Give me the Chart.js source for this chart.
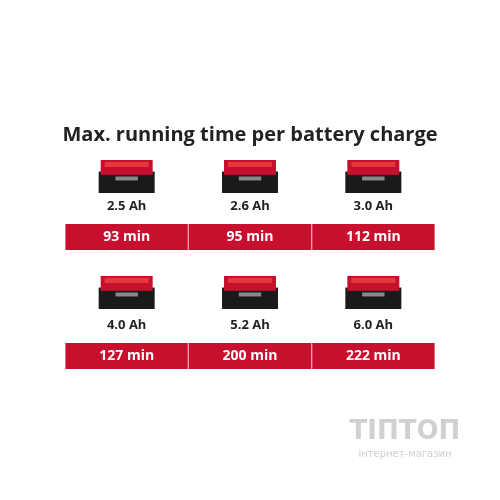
<!DOCTYPE html>
<html><head><meta charset="utf-8">
<script src="https://cdn.jsdelivr.net/npm/chart.js@4/dist/chart.umd.min.js"></script>
<style>html,body{margin:0;padding:0;background:#fff}#w{width:500px;height:500px}</style>
</head><body><div id="w"><canvas id="c"></canvas></div>
<script>
const titleText = "Max. running time per battery charge";
const columns = ["col1", "col2", "col3"];
const row1Capacity = ["2.5 Ah", "2.6 Ah", "3.0 Ah"];
const row1Minutes = [93, 95, 112];
const row2Capacity = ["4.0 Ah", "5.2 Ah", "6.0 Ah"];
const row2Minutes = [127, 200, 222];
const row1Band = [224, 250];
const row2Band = [343, 369];
const red = "#c8102e";

function drawBattery(ctx, cx, top, w, h) {
  ctx.save();
  ctx.fillStyle = "#1a1a1a";
  ctx.fillRect(cx - w/2, top + h*0.35, w, h*0.65);
  ctx.fillStyle = red;
  ctx.fillRect(cx - w/2 + 2, top, w - 4, h*0.45);
  ctx.fillStyle = "#e23a3a";
  ctx.fillRect(cx - w/2 + 6, top + 2, w - 12, h*0.15);
  ctx.fillStyle = "#888";
  ctx.fillRect(cx - w*0.2, top + h*0.5, w*0.4, h*0.12);
  ctx.restore();
}

const overlay = {
  id: "overlay",
  afterDatasetsDraw(chart) {
    const ctx = chart.ctx, x = chart.scales.x, y = chart.scales.y;
    ctx.save();
    ctx.textAlign = "center"; ctx.textBaseline = "middle";
    ctx.fillStyle = "#222";
    ctx.font = "bold 20px 'Open Sans'";
    ctx.fillText(titleText, 250, 135);
    const rows = [[row1Capacity, row1Minutes, row1Band, 160], [row2Capacity, row2Minutes, row2Band, 276]];
    rows.forEach(([caps, mins, band, btop]) => {
      columns.forEach((c, i) => {
        const cx = x.getPixelForValue(i);
        drawBattery(ctx, cx, btop, 56, 33);
        ctx.fillStyle = "#222";
        ctx.font = "bold 13px 'Open Sans'";
        ctx.fillText(caps[i], cx, y.getPixelForValue(band[0]) - 18);
        ctx.fillStyle = "#fff";
        ctx.font = "bold 14px 'Open Sans'";
        ctx.fillText(mins[i] + " min", cx, y.getPixelForValue((band[0] + band[1]) / 2));
      });
    });
    ctx.fillStyle = "#d0d0d0";
    ctx.font = "bold 26px 'DejaVu Sans'";
    ctx.fillText("ТІПТОП", 405, 432);
    ctx.font = "10px 'DejaVu Sans'";
    ctx.fillText("інтернет-магазин", 405, 454);
    ctx.restore();
  }
};

new Chart(document.getElementById("c"), {
  type: "bar",
  data: {
    labels: columns,
    datasets: [
      { data: columns.map(() => row1Band), backgroundColor: red, borderColor: "#e8a0a8", borderWidth: {left: 1, right: 1}, borderSkipped: false },
      { data: columns.map(() => row2Band), backgroundColor: red, borderColor: "#e8a0a8", borderWidth: {left: 1, right: 1}, borderSkipped: false }
    ]
  },
  options: {
    responsive: true, maintainAspectRatio: false, animation: false,
    layout: { padding: { left: 65, right: 65, top: 0, bottom: 0 } },
    datasets: { bar: { grouped: false, barPercentage: 1, categoryPercentage: 1 } },
    plugins: { legend: { display: false }, tooltip: { enabled: false } },
    scales: {
      x: { display: false },
      y: { display: false, min: 0, max: 500, reverse: true }
    }
  },
  plugins: [overlay]
});
</script></body></html>
